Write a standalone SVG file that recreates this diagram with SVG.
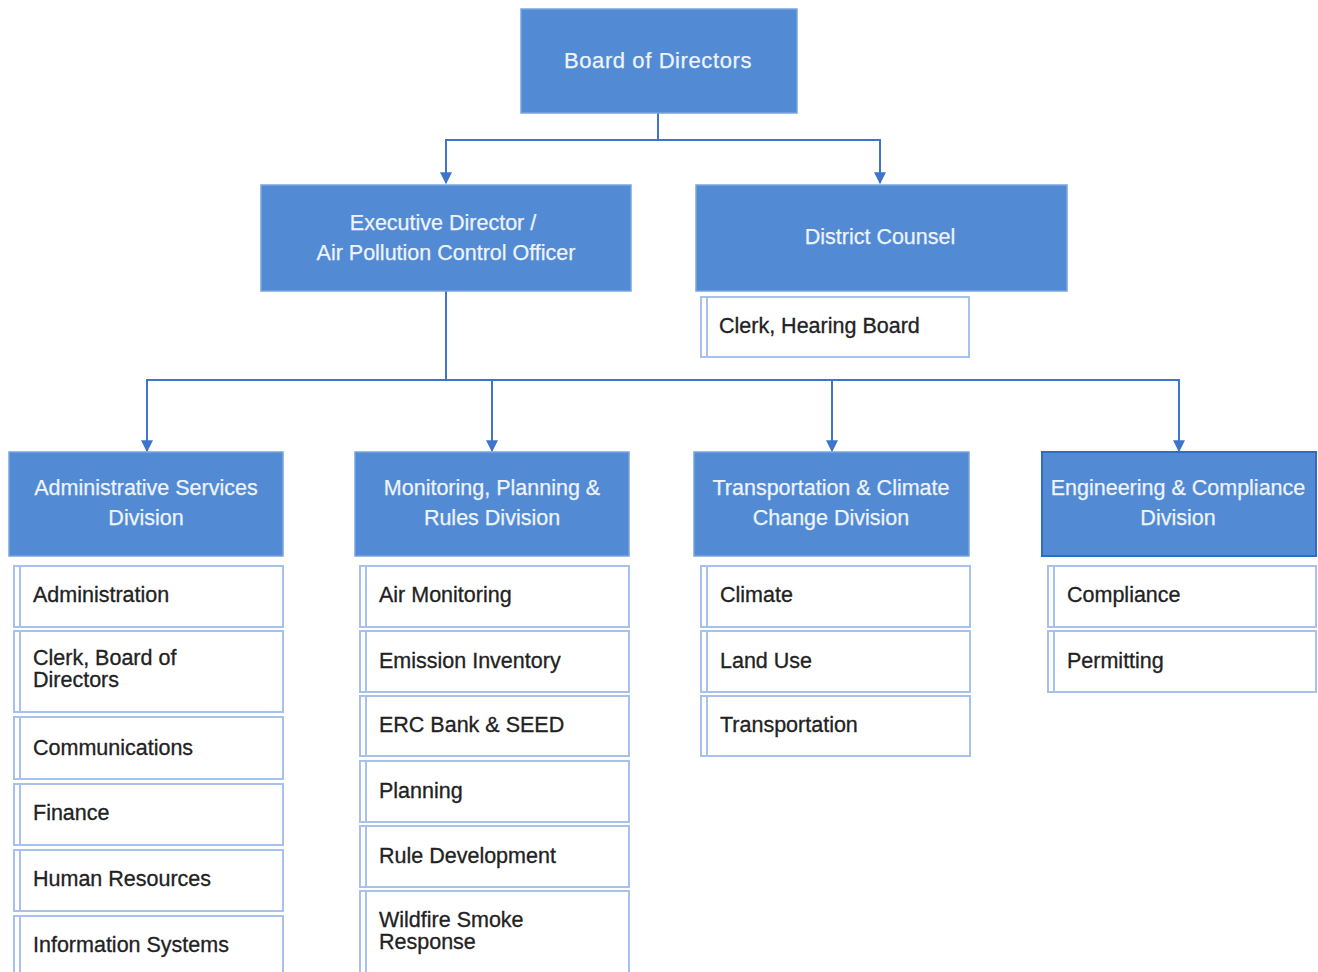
<svg xmlns="http://www.w3.org/2000/svg" width="1318" height="972" viewBox="0 0 1318 972">
<defs>
<marker id="arr" viewBox="0 0 10 10" refX="9" refY="5" markerWidth="12" markerHeight="12" markerUnits="userSpaceOnUse" orient="auto">
<path d="M0,0 L10,5 L0,10 z" fill="#3f74cc"/>
</marker>
<style>
.blue{fill:#528bd4;stroke:#7aa4df;stroke-width:1.5}
.blue2{fill:#528bd4;stroke:#2f6cc4;stroke-width:2}
.wt{fill:#eef3fc;font-family:"Liberation Sans",Arial,sans-serif;font-size:21.5px;text-anchor:middle;stroke:#eef3fc;stroke-width:0.25}
.big{font-size:22px;letter-spacing:0.6px}
.sub{fill:#fff;stroke:#a8c0ec;stroke-width:2}
.inner{stroke:#a8c0ec;stroke-width:2}
.dt{fill:#222;font-family:"Liberation Sans",Arial,sans-serif;font-size:21.5px;stroke:#222;stroke-width:0.3}
.con{fill:none;stroke:#3f74cc;stroke-width:2}
</style>
</defs>
<rect width="1318" height="972" fill="#fff"/>
<g id="connectors">
<path class="con" d="M658,113 V140 H446 V183" marker-end="url(#arr)"/>
<path class="con" d="M658,140 H880 V183" marker-end="url(#arr)"/>
<path class="con" d="M446,291 V380 H147 V451" marker-end="url(#arr)"/>
<path class="con" d="M446,380 H1179 V451" marker-end="url(#arr)"/>
<path class="con" d="M492,380 V451" marker-end="url(#arr)"/>
<path class="con" d="M832,380 V451" marker-end="url(#arr)"/>
</g>
<g id="board"><rect class="blue" x="521" y="9" width="276" height="104"/><text class="wt big" x="658" y="68">Board of Directors</text></g>
<g id="exec"><rect class="blue" x="261" y="185" width="370" height="106"/><text class="wt" x="443" y="230">Executive Director /</text><text class="wt" x="446" y="260">Air Pollution Control Officer</text></g>
<g id="counsel"><rect class="blue" x="696" y="185" width="371" height="106"/><text class="wt" x="880" y="244">District Counsel</text></g>
<g id="clerk-hearing"><rect class="sub" x="701" y="297" width="268" height="60"/><line class="inner" x1="707" y1="297" x2="707" y2="357"/><text class="dt" x="719" y="333">Clerk, Hearing Board</text></g>

<g id="div-admin"><rect class="blue" x="9" y="452" width="274" height="104"/><text class="wt" x="146" y="495">Administrative Services</text><text class="wt" x="146" y="525">Division</text></g>
<g id="div-mon"><rect class="blue" x="355" y="452" width="274" height="104"/><text class="wt" x="492" y="495">Monitoring, Planning &amp;</text><text class="wt" x="492" y="525">Rules Division</text></g>
<g id="div-trans"><rect class="blue" x="694" y="452" width="275" height="104"/><text class="wt" x="831" y="495">Transportation &amp; Climate</text><text class="wt" x="831" y="525">Change Division</text></g>
<g id="div-eng"><rect class="blue2" x="1042" y="452" width="274" height="104"/><text class="wt" x="1178" y="495">Engineering &amp; Compliance</text><text class="wt" x="1178" y="525">Division</text></g>

<g id="s-administration"><rect class="sub" x="14" y="566" width="269" height="61"/><line class="inner" x1="20" y1="566" x2="20" y2="627"/><text class="dt" x="33" y="602">Administration</text></g>
<g id="s-clerk-board"><rect class="sub" x="14" y="631" width="269" height="81"/><line class="inner" x1="20" y1="631" x2="20" y2="712"/><text class="dt" x="33" y="665">Clerk, Board of</text><text class="dt" x="33" y="687">Directors</text></g>
<g id="s-comm"><rect class="sub" x="14" y="717" width="269" height="62"/><line class="inner" x1="20" y1="717" x2="20" y2="779"/><text class="dt" x="33" y="755">Communications</text></g>
<g id="s-finance"><rect class="sub" x="14" y="784" width="269" height="61"/><line class="inner" x1="20" y1="784" x2="20" y2="845"/><text class="dt" x="33" y="820">Finance</text></g>
<g id="s-hr"><rect class="sub" x="14" y="850" width="269" height="61"/><line class="inner" x1="20" y1="850" x2="20" y2="911"/><text class="dt" x="33" y="886">Human Resources</text></g>
<g id="s-is"><rect class="sub" x="14" y="916" width="269" height="70"/><line class="inner" x1="20" y1="916" x2="20" y2="986"/><text class="dt" x="33" y="952">Information Systems</text></g>

<g id="s-airmon"><rect class="sub" x="360" y="566" width="269" height="61"/><line class="inner" x1="366" y1="566" x2="366" y2="627"/><text class="dt" x="379" y="602">Air Monitoring</text></g>
<g id="s-emission"><rect class="sub" x="360" y="631" width="269" height="61"/><line class="inner" x1="366" y1="631" x2="366" y2="692"/><text class="dt" x="379" y="668">Emission Inventory</text></g>
<g id="s-erc"><rect class="sub" x="360" y="696" width="269" height="60"/><line class="inner" x1="366" y1="696" x2="366" y2="756"/><text class="dt" x="379" y="732">ERC Bank &amp; SEED</text></g>
<g id="s-planning"><rect class="sub" x="360" y="761" width="269" height="61"/><line class="inner" x1="366" y1="761" x2="366" y2="822"/><text class="dt" x="379" y="798">Planning</text></g>
<g id="s-rule"><rect class="sub" x="360" y="826" width="269" height="61"/><line class="inner" x1="366" y1="826" x2="366" y2="887"/><text class="dt" x="379" y="863">Rule Development</text></g>
<g id="s-wildfire"><rect class="sub" x="360" y="891" width="269" height="95"/><line class="inner" x1="366" y1="891" x2="366" y2="986"/><text class="dt" x="379" y="927">Wildfire Smoke</text><text class="dt" x="379" y="949">Response</text></g>

<g id="s-climate"><rect class="sub" x="701" y="566" width="269" height="61"/><line class="inner" x1="707" y1="566" x2="707" y2="627"/><text class="dt" x="720" y="602">Climate</text></g>
<g id="s-landuse"><rect class="sub" x="701" y="631" width="269" height="61"/><line class="inner" x1="707" y1="631" x2="707" y2="692"/><text class="dt" x="720" y="668">Land Use</text></g>
<g id="s-transport"><rect class="sub" x="701" y="696" width="269" height="60"/><line class="inner" x1="707" y1="696" x2="707" y2="756"/><text class="dt" x="720" y="732">Transportation</text></g>

<g id="s-compliance"><rect class="sub" x="1048" y="566" width="268" height="61"/><line class="inner" x1="1054" y1="566" x2="1054" y2="627"/><text class="dt" x="1067" y="602">Compliance</text></g>
<g id="s-permitting"><rect class="sub" x="1048" y="631" width="268" height="61"/><line class="inner" x1="1054" y1="631" x2="1054" y2="692"/><text class="dt" x="1067" y="668">Permitting</text></g>
</svg>
